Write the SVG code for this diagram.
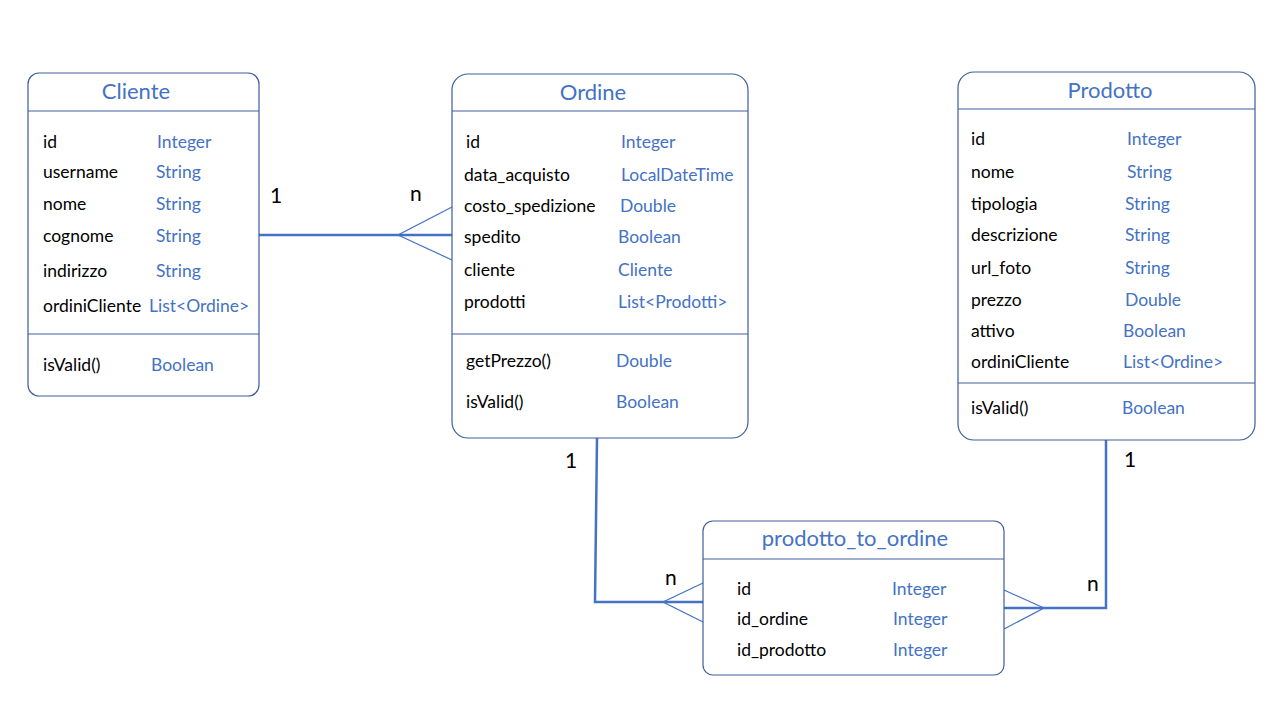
<svg xmlns="http://www.w3.org/2000/svg" width="1280" height="720" viewBox="0 0 1280 720">
<style>
.box{fill:#fff;stroke:#3F5E9A;stroke-width:1.2}
.sep{stroke:#3F5E9A;stroke-width:1.2}
.title{font-family:Lato,"Open Sans",sans-serif;font-size:22px;fill:#4472C4;text-anchor:middle}
.n{font-family:Lato,"Open Sans",sans-serif;font-size:17.5px;fill:#000}
.t{font-family:Lato,"Open Sans",sans-serif;font-size:17.5px;fill:#4472C4}
.lbl{font-family:Lato,"Open Sans",sans-serif;font-size:21px;fill:#000}
.rel{fill:none;stroke:#4472C4;stroke-width:2.5}
.crow{fill:none;stroke:#4472C4;stroke-width:1.2}
</style>
<rect width="1280" height="720" fill="#fff"/>
<g id="connectors">
<path class="rel" d="M259,235 H452"/>
<path class="crow" d="M452,207 L398,235 L452,260"/>
<path class="rel" d="M597,438 L595,602 H703"/>
<path class="crow" d="M703,583 L663,602 L703,622"/>
<path class="rel" d="M1106,440 V608 H1004"/>
<path class="crow" d="M1004,590 L1044,608 L1004,629"/>
<text class="lbl" x="270" y="203">1</text>
<text class="lbl" x="410" y="201">n</text>
<text class="lbl" x="565" y="468">1</text>
<text class="lbl" x="665" y="585">n</text>
<text class="lbl" x="1124" y="467">1</text>
<text class="lbl" x="1087" y="591">n</text>
</g>
<g id="Cliente">
<rect class="box" x="28" y="73" width="231" height="323" rx="11"/>
<line class="sep" x1="28" y1="111" x2="259" y2="111"/>
<line class="sep" x1="28" y1="334" x2="259" y2="334"/>
<text class="title" x="136" y="99">Cliente</text>
<text class="n" x="43" y="148">id</text><text class="t" x="157" y="148">Integer</text>
<text class="n" x="43" y="178">username</text><text class="t" x="156" y="178">String</text>
<text class="n" x="43" y="210">nome</text><text class="t" x="156" y="210">String</text>
<text class="n" x="43" y="242">cognome</text><text class="t" x="156" y="242">String</text>
<text class="n" x="43" y="277">indirizzo</text><text class="t" x="156" y="277">String</text>
<text class="n" x="43" y="312">ordiniCliente</text><text class="t" x="149" y="312">List&lt;Ordine&gt;</text>
<text class="n" x="43" y="371">isValid()</text><text class="t" x="151" y="371">Boolean</text>
</g>
<g id="Ordine">
<rect class="box" x="452" y="74" width="296" height="364" rx="16"/>
<line class="sep" x1="452" y1="111" x2="748" y2="111"/>
<line class="sep" x1="452" y1="334" x2="748" y2="334"/>
<text class="title" x="593" y="100">Ordine</text>
<text class="n" x="466" y="148">id</text><text class="t" x="621" y="148">Integer</text>
<text class="n" x="464" y="181">data_acquisto</text><text class="t" x="621" y="181">LocalDateTime</text>
<text class="n" x="464" y="212">costo_spedizione</text><text class="t" x="620" y="212">Double</text>
<text class="n" x="464" y="243">spedito</text><text class="t" x="618" y="243">Boolean</text>
<text class="n" x="464" y="276">cliente</text><text class="t" x="618" y="276">Cliente</text>
<text class="n" x="464" y="308">prodotti</text><text class="t" x="618" y="308">List&lt;Prodotti&gt;</text>
<text class="n" x="466" y="367">getPrezzo()</text><text class="t" x="616" y="367">Double</text>
<text class="n" x="466" y="408">isValid()</text><text class="t" x="616" y="408">Boolean</text>
</g>
<g id="Prodotto">
<rect class="box" x="958" y="72" width="297" height="368" rx="16"/>
<line class="sep" x1="958" y1="109" x2="1255" y2="109"/>
<line class="sep" x1="958" y1="383" x2="1255" y2="383"/>
<text class="title" x="1110" y="98">Prodotto</text>
<text class="n" x="971" y="145">id</text><text class="t" x="1127" y="145">Integer</text>
<text class="n" x="971" y="178">nome</text><text class="t" x="1127" y="178">String</text>
<text class="n" x="971" y="210">tipologia</text><text class="t" x="1125" y="210">String</text>
<text class="n" x="971" y="241">descrizione</text><text class="t" x="1125" y="241">String</text>
<text class="n" x="971" y="274">url_foto</text><text class="t" x="1125" y="274">String</text>
<text class="n" x="971" y="306">prezzo</text><text class="t" x="1125" y="306">Double</text>
<text class="n" x="971" y="337">attivo</text><text class="t" x="1123" y="337">Boolean</text>
<text class="n" x="971" y="368">ordiniCliente</text><text class="t" x="1123" y="368">List&lt;Ordine&gt;</text>
<text class="n" x="971" y="414">isValid()</text><text class="t" x="1122" y="414">Boolean</text>
</g>
<g id="prodotto_to_ordine">
<rect class="box" x="703" y="521" width="301" height="154" rx="10"/>
<line class="sep" x1="703" y1="559" x2="1004" y2="559"/>
<text class="title" x="855" y="546">prodotto_to_ordine</text>
<text class="n" x="737" y="595">id</text><text class="t" x="892" y="595">Integer</text>
<text class="n" x="737" y="625">id_ordine</text><text class="t" x="893" y="625">Integer</text>
<text class="n" x="737" y="656">id_prodotto</text><text class="t" x="893" y="656">Integer</text>
</g>
</svg>
